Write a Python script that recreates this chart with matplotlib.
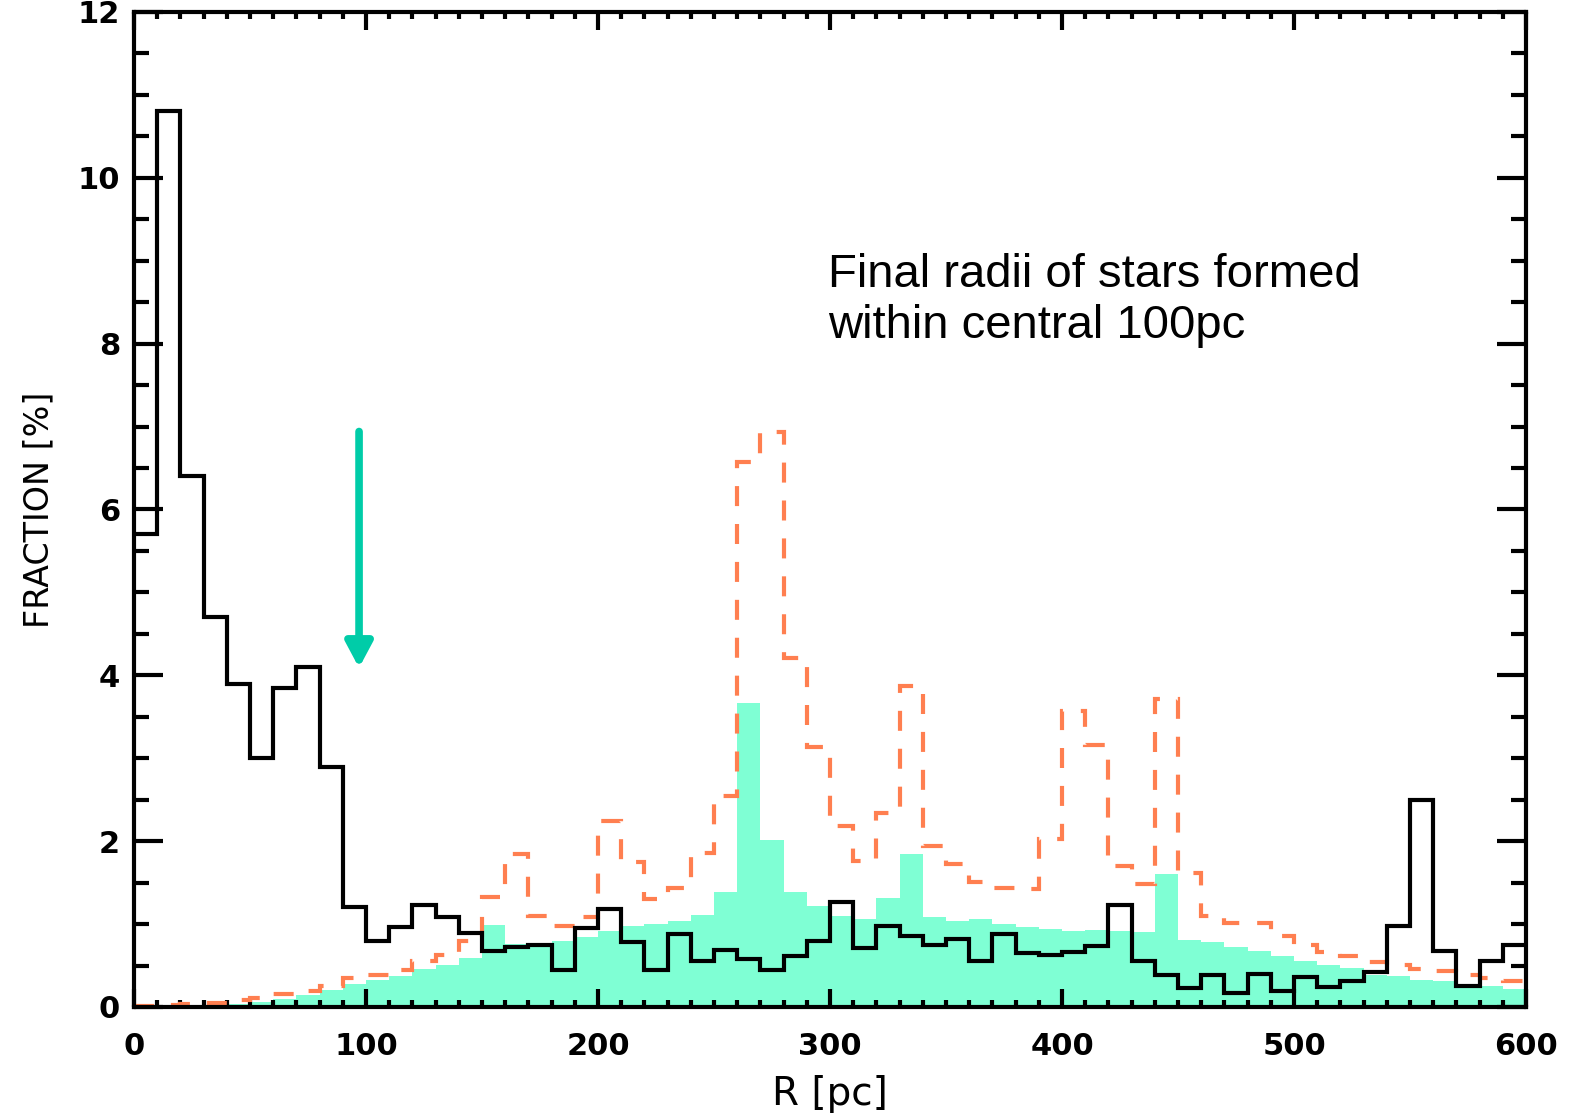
import matplotlib.pyplot as plt
import numpy as np

# 10 pc radial bins, 0-600 pc
edges = np.arange(0, 610, 10)

# final radii of stars formed within central 100 pc (solid black)
frac_central = [5.7, 10.8, 6.4, 4.7, 3.9, 3.0, 3.85, 4.1, 2.9, 1.2,
                0.8, 0.97, 1.23, 1.08, 0.89, 0.67, 0.72, 0.75, 0.45, 0.95,
                1.18, 0.78, 0.45, 0.88, 0.55, 0.69, 0.58, 0.44, 0.62, 0.8,
                1.26, 0.71, 0.98, 0.86, 0.75, 0.82, 0.55, 0.88, 0.65, 0.63,
                0.66, 0.74, 1.23, 0.55, 0.38, 0.23, 0.38, 0.17, 0.4, 0.19,
                0.36, 0.24, 0.31, 0.42, 0.98, 2.5, 0.68, 0.25, 0.56, 0.75]

# dashed coral histogram
frac_dashed = [0.01, 0.02, 0.04, 0.05, 0.09, 0.11, 0.16, 0.19, 0.25, 0.35,
               0.38, 0.45, 0.55, 0.63, 0.79, 1.33, 1.84, 1.1, 0.98, 1.08,
               2.24, 1.75, 1.3, 1.43, 1.86, 2.55, 6.57, 6.94, 4.21, 3.13,
               2.18, 1.76, 2.34, 3.87, 1.94, 1.73, 1.51, 1.44, 1.42, 2.03,
               3.57, 3.16, 1.7, 1.48, 3.71, 1.62, 1.1, 1.01, 1.01, 0.85,
               0.75, 0.66, 0.62, 0.54, 0.51, 0.46, 0.43, 0.39, 0.35, 0.31]

# filled aquamarine histogram
frac_filled = [0.0, 0.01, 0.01, 0.02, 0.03, 0.06, 0.1, 0.15, 0.21, 0.28,
               0.32, 0.37, 0.46, 0.51, 0.59, 0.99, 0.76, 0.76, 0.79, 0.84,
               0.92, 0.98, 1.0, 1.04, 1.11, 1.39, 3.66, 2.01, 1.39, 1.22,
               1.1, 1.06, 1.32, 1.85, 1.08, 1.04, 1.06, 1.0, 0.96, 0.94,
               0.92, 0.93, 0.92, 0.9, 1.6, 0.81, 0.78, 0.72, 0.67, 0.62,
               0.55, 0.51, 0.47, 0.39, 0.37, 0.33, 0.31, 0.27, 0.25, 0.22]

arrow_r = 97
arrow_top = 6.94
arrow_tip = 4.09

fig = plt.figure(figsize=(15.71, 11.17), dpi=100)
ax = fig.add_axes([0.0853, 0.0985, 0.8861, 0.8908])

ax.stairs(frac_filled, edges, fill=True, color='#7fffd4', zorder=1)
ax.stairs(frac_dashed, edges, baseline=None, color='#ff7f50', lw=3,
          linestyle=(0, (4.8, 4.3)), zorder=2)
ax.stairs(frac_central, edges, baseline=None, color='black', lw=3, zorder=3)

ax.annotate('', xy=(arrow_r, arrow_tip), xytext=(arrow_r, arrow_top),
            arrowprops=dict(arrowstyle='-|>,head_width=0.4,head_length=0.75',
                            color='#00cca8', lw=5.5, mutation_scale=20,
                            shrinkA=0, shrinkB=0))

ax.text(299, 8.07, 'Final radii of stars formed\nwithin central 100pc',
        fontsize=34, family='Liberation Sans', va='baseline', ha='left')

ax.set_xlim(0, 600)
ax.set_ylim(0, 12)
ax.set_xticks(np.arange(0, 601, 100))
ax.set_xticks(np.arange(0, 601, 10), minor=True)
ax.set_yticks(np.arange(0, 13, 2))
ax.set_yticks(np.arange(0, 12.1, 0.5), minor=True)

ax.tick_params(axis='both', which='both', direction='in', width=3,
               top=True, right=True, labelsize=22)
ax.tick_params(axis='x', which='major', length=13, pad=18)
ax.tick_params(axis='x', which='minor', length=5)
ax.tick_params(axis='y', which='major', length=21, pad=10)
ax.tick_params(axis='y', which='minor', length=11)
for lab in ax.get_xticklabels() + ax.get_yticklabels():
    lab.set_fontweight('bold')

for sp in ax.spines.values():
    sp.set_linewidth(3)

ax.set_xlabel('R [pc]', fontsize=28, labelpad=10)
ax.set_ylabel('FRACTION [%]', fontsize=24, labelpad=16)

fig.savefig('out.png', dpi=100)
